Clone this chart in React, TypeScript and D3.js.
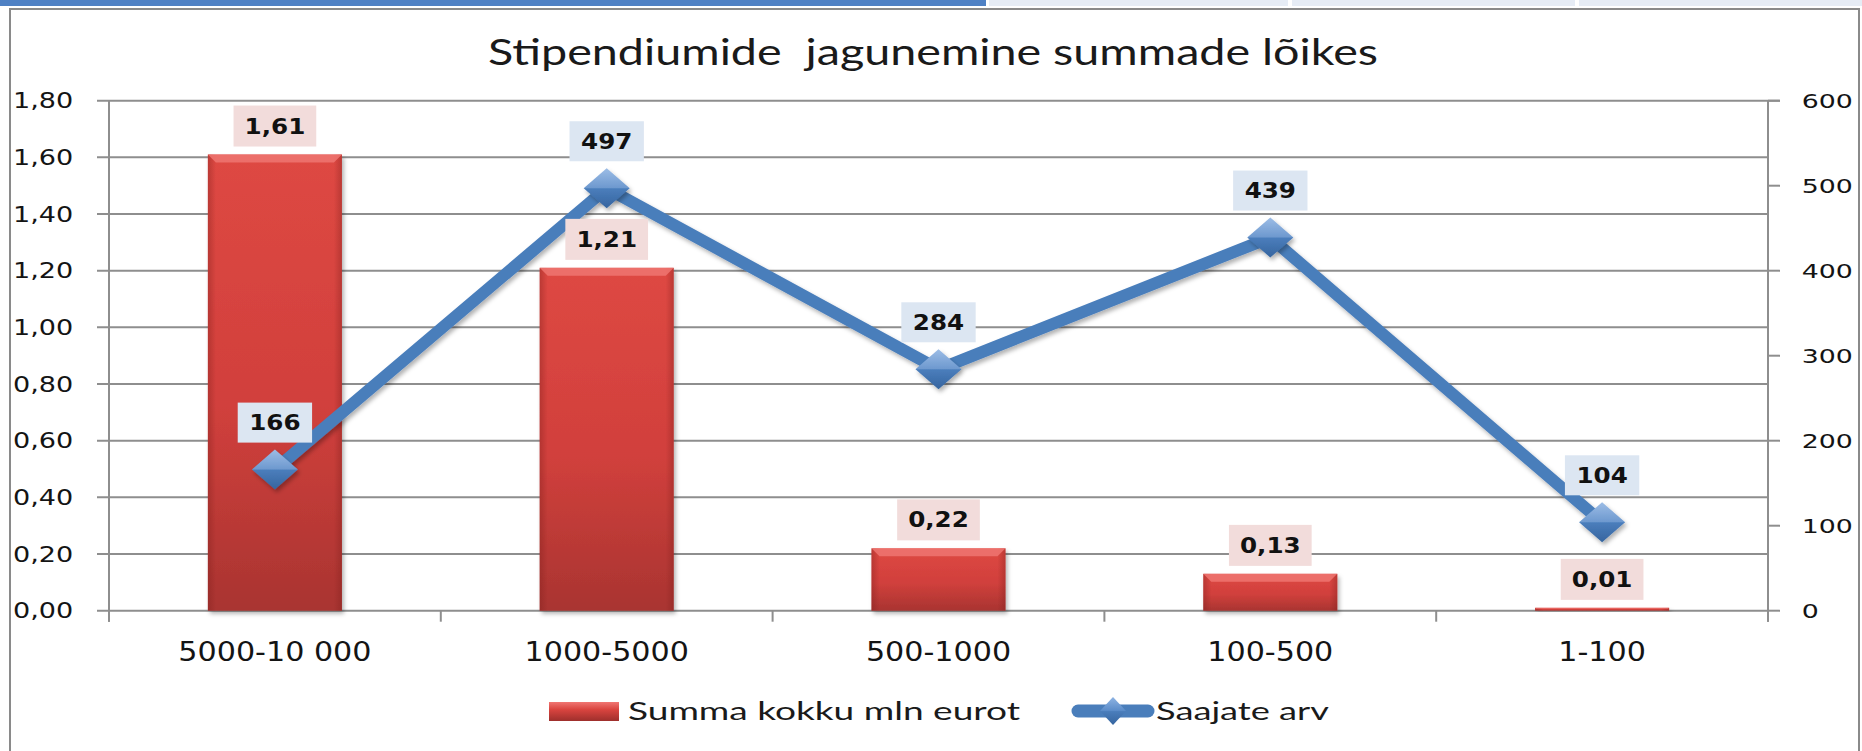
import React from "react";
import * as d3 from "d3";

const categories = ["5000-10 000", "1000-5000", "500-1000", "100-500", "1-100"];
const sumValues = [1.61, 1.21, 0.22, 0.13, 0.01];
const recipientValues = [166, 497, 284, 439, 104];
const leftTicks = [0, 0.2, 0.4, 0.6, 0.8, 1.0, 1.2, 1.4, 1.6, 1.8];
const rightTicks = [0, 100, 200, 300, 400, 500, 600];
const titleText = "Stipendiumide  jagunemine summade lõikes";
const legendBar = "Summa kokku mln eurot";
const legendLine = "Saajate arv";

const W = 1862;
const H = 751;
const PL = 109;
const PR = 1768;
const PT = 100.7;
const PB = 610.7;

const fmtL = (v: number) => d3.format(".2f")(v).replace(".", ",");
const fmtBar = (v: number) => d3.format(".2f")(v).replace(".", ",");

const LBL_FS = 20.5;
const LBL_SX = 1.2;
const textW = (s: string) =>
  s.split("").reduce((a, c) => a + (c === "," ? 0.38 : 0.696), 0) * LBL_FS * LBL_SX;

function SText(props: {
  x: number;
  y: number;
  sx: number;
  anchor?: string;
  size: number;
  weight?: string | number;
  family?: string;
  fill?: string;
  children: React.ReactNode;
}) {
  const { x, y, sx, anchor = "start", size, weight = "normal", family = "'DejaVu Sans', Verdana, sans-serif", fill = "#1c1c1c" } = props;
  return (
    <text
      transform={`translate(${x},${y}) scale(${sx},1)`}
      textAnchor={anchor}
      fontSize={size}
      fontWeight={weight}
      fontFamily={family}
      fill={fill}
    >
      {props.children}
    </text>
  );
}

export default function App() {
  const x = d3.scaleBand<string>().domain(categories).range([PL, PR]).paddingInner(0).paddingOuter(0);
  const yL = d3.scaleLinear().domain([0, 1.8]).range([PB, PT]);
  const yR = d3.scaleLinear().domain([0, 600]).range([PB, PT]);
  const bw = x.bandwidth() * 0.404;
  const cx = (c: string) => (x(c) as number) + x.bandwidth() / 2;

  const linePts: [number, number][] = categories.map((c, i) => [cx(c), yR(recipientValues[i])]);
  const lineGen = d3.line();
  const diamond = (px: number, py: number, hw: number, hh: number) =>
    `M${px},${py - hh}L${px + hw},${py}L${px},${py + hh}L${px - hw},${py}Z`;

  const grid = "#8e8e8e";
  const boundaries = d3.range(categories.length + 1).map((k) => PL + k * x.bandwidth());

  return (
    <svg width={W} height={H} style={{ position: "absolute", left: 0, top: 0, background: "#fff" }}>
      <defs>
        <linearGradient id="barV" x1="0" y1="0" x2="0" y2="1">
          <stop offset="0%" stopColor="#de4843" />
          <stop offset="55%" stopColor="#d1403c" />
          <stop offset="100%" stopColor="#a93431" />
        </linearGradient>
        <linearGradient id="barH" x1="0" y1="0" x2="1" y2="0">
          <stop offset="0%" stopColor="#7a1d1a" stopOpacity="0.35" />
          <stop offset="6%" stopColor="#7a1d1a" stopOpacity="0.0" />
          <stop offset="94%" stopColor="#7a1d1a" stopOpacity="0.0" />
          <stop offset="100%" stopColor="#7a1d1a" stopOpacity="0.35" />
        </linearGradient>
        <linearGradient id="dia" x1="0" y1="0" x2="0" y2="1">
          <stop offset="0%" stopColor="#8fb4e3" />
          <stop offset="48%" stopColor="#5b8cc9" />
          <stop offset="52%" stopColor="#4a7dbb" />
          <stop offset="100%" stopColor="#36659f" />
        </linearGradient>
        <linearGradient id="legBar" x1="0" y1="0" x2="0" y2="1">
          <stop offset="0%" stopColor="#f07672" />
          <stop offset="40%" stopColor="#d9443f" />
          <stop offset="100%" stopColor="#9e2f2c" />
        </linearGradient>
        <filter id="shadow" x="-20%" y="-20%" width="140%" height="140%">
          <feDropShadow dx="2" dy="3" stdDeviation="2" floodColor="#000" floodOpacity="0.3" />
        </filter>
      </defs>

      {/* top strip */}
      <rect x={0} y={0} width={986} height={6} fill="#4f81c4" />
      <rect x={989} y={0} width={299} height={6} fill="#e6ecf5" />
      <rect x={1292} y={0} width={283} height={6} fill="#e6ecf5" />
      <rect x={1579} y={0} width={283} height={6} fill="#e6ecf5" />

      {/* chart border */}
      <rect x={10} y={9} width={1849} height={760} fill="#fff" stroke="#8a8a8a" strokeWidth={2} />

      {/* title */}
      <text
        x={933}
        y={65}
        textAnchor="middle"
        fontFamily="Lato, 'Open Sans', sans-serif"
        fontSize={37}
        fill="#1a1a1a"
        textLength={890}
        lengthAdjust="spacingAndGlyphs"
        style={{ whiteSpace: "pre" }}
      >
        {titleText}
      </text>

      {/* gridlines */}
      {leftTicks.map((t) => (
        <line key={"g" + t} x1={97} x2={t === 1.8 ? 1780 : PR} y1={yL(t)} y2={yL(t)} stroke={grid} strokeWidth={2} />
      ))}
      {/* left axis */}
      <line x1={PL} x2={PL} y1={PT} y2={PB + 11} stroke={grid} strokeWidth={2} />
      {/* right axis */}
      <line x1={PR} x2={PR} y1={PT} y2={PB + 11} stroke={grid} strokeWidth={2} />
      {rightTicks.map((t) => (
        <line key={"rt" + t} x1={PR} x2={1780} y1={yR(t)} y2={yR(t)} stroke={grid} strokeWidth={2} />
      ))}
      {/* category ticks */}
      {boundaries.map((b, i) => (
        <line key={"ct" + i} x1={b} x2={b} y1={PB} y2={PB + 11} stroke={grid} strokeWidth={2} />
      ))}

      {/* left tick labels */}
      {leftTicks.map((t) => (
        <SText key={"ll" + t} x={73.3} y={yL(t) + 7.5} sx={1.32} anchor="end" size={20.5} fill="#141414">
          {fmtL(t)}
        </SText>
      ))}
      {/* right tick labels */}
      {rightTicks.map((t) => (
        <SText key={"rl" + t} x={1801.7} y={yR(t) + 7.5} sx={1.34} anchor="start" size={20} fill="#141414">
          {String(t)}
        </SText>
      ))}
      {/* category labels */}
      {categories.map((c) => (
        <SText key={"cl" + c} x={cx(c)} y={661} sx={1.16} anchor="middle" size={26} fill="#141414">
          {c}
        </SText>
      ))}

      {/* bars */}
      {categories.map((c, i) => {
        const top = yL(sumValues[i]);
        const h = PB - top;
        const bx = cx(c) - bw / 2;
        const bev = Math.min(8, h / 3);
        return (
          <g key={"b" + c}>
            <rect x={bx} y={top} width={bw} height={h} fill="url(#barV)" filter="url(#shadow)" />
            <rect x={bx} y={top} width={bw} height={h} fill="url(#barH)" />
            <path
              d={`M${bx},${top}L${bx + bw},${top}L${bx + bw - bev},${top + bev}L${bx + bev},${top + bev}Z`}
              fill="#ee7571"
              opacity={0.85}
            />
          </g>
        );
      })}

      {/* line */}
      <path
        d={lineGen(linePts) as string}
        fill="none"
        stroke="#4a7ebb"
        strokeWidth={12}
        strokeLinejoin="round"
        filter="url(#shadow)"
      />
      {linePts.map(([px, py], i) => (
        <g key={"m" + i}>
          <path d={diamond(px, py, 23, 20)} fill="url(#dia)" filter="url(#shadow)" />
          <path d={`M${px - 23},${py}L${px},${py - 20}L${px + 23},${py}Z`} fill="#ffffff" opacity={0.12} />
        </g>
      ))}

      {/* bar data labels */}
      {categories.map((c, i) => {
        const s = fmtBar(sumValues[i]);
        const tw = textW(s);
        const bwid = tw + 22;
        const cy = yL(sumValues[i]) - 28.5;
        return (
          <g key={"bl" + c}>
            <rect x={cx(c) - bwid / 2} y={cy - 20.5} width={bwid} height={41} fill="#f2dcdb" />
            <SText x={cx(c)} y={cy + 7.5} sx={LBL_SX} anchor="middle" size={LBL_FS} weight="bold" fill="#111">
              {s}
            </SText>
          </g>
        );
      })}

      {/* line data labels */}
      {linePts.map(([px, py], i) => {
        const s = String(recipientValues[i]);
        const tw = textW(s);
        const bwid = tw + 23;
        const cy = py - 47;
        return (
          <g key={"nl" + i}>
            <rect x={px - bwid / 2} y={cy - 20} width={bwid} height={40} fill="#dce6f2" />
            <SText x={px} y={cy + 7.5} sx={LBL_SX} anchor="middle" size={LBL_FS} weight="bold" fill="#111">
              {s}
            </SText>
          </g>
        );
      })}

      {/* legend */}
      <rect x={549} y={702} width={70} height={19} fill="url(#legBar)" />
      <text
        x={628}
        y={720}
        fontFamily="Lato, 'Open Sans', sans-serif"
        fontSize={25.5}
        fill="#1a1a1a"
        textLength={392}
        lengthAdjust="spacingAndGlyphs"
      >
        {legendBar}
      </text>
      <line x1={1078} x2={1148} y1={711} y2={711} stroke="#4a7ebb" strokeWidth={13} strokeLinecap="round" />
      <path d={diamond(1113, 711, 13, 14)} fill="url(#dia)" />
      <text
        x={1156}
        y={720}
        fontFamily="Lato, 'Open Sans', sans-serif"
        fontSize={25.5}
        fill="#1a1a1a"
        textLength={173}
        lengthAdjust="spacingAndGlyphs"
      >
        {legendLine}
      </text>
    </svg>
  );
}
